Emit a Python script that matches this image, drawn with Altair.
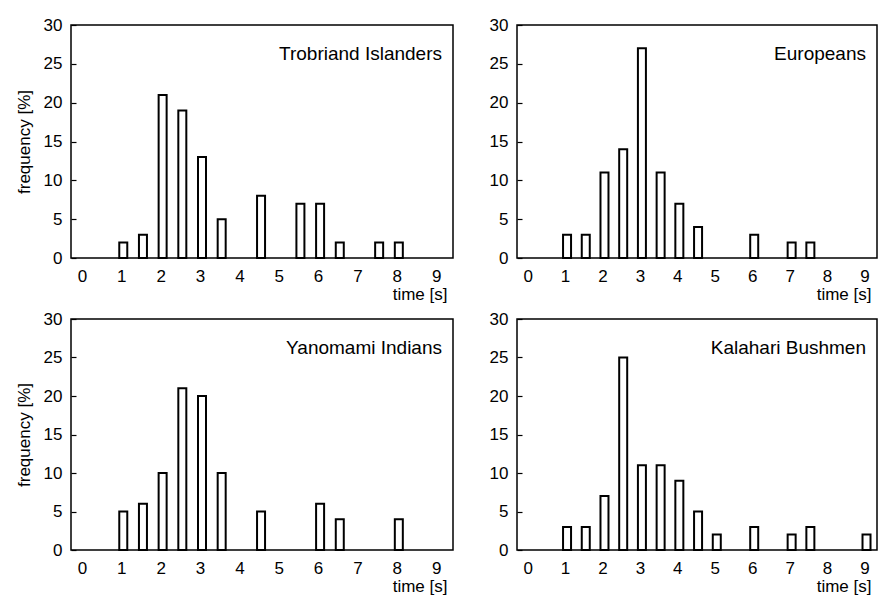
import altair as alt
import pandas as pd

FONT = "Liberation Sans"

x_ticks = [0, 1, 2, 3, 4, 5, 6, 7, 8, 9]
y_ticks = [0, 5, 10, 15, 20, 25, 30]

trobriand_time = [1, 1.5, 2, 2.5, 3, 3.5, 4.5, 5.5, 6, 6.5, 7.5, 8]
trobriand_freq = [2, 3, 21, 19, 13, 5, 8, 7, 7, 2, 2, 2]

europe_time = [1, 1.5, 2, 2.5, 3, 3.5, 4, 4.5, 6, 7, 7.5]
europe_freq = [3, 3, 11, 14, 27, 11, 7, 4, 3, 2, 2]

yanomami_time = [1, 1.5, 2, 2.5, 3, 3.5, 4.5, 6, 6.5, 8]
yanomami_freq = [5, 6, 10, 21, 20, 10, 5, 6, 4, 4]

kalahari_time = [1, 1.5, 2, 2.5, 3, 3.5, 4, 4.5, 5, 6, 7, 7.5, 9]
kalahari_freq = [3, 3, 7, 25, 11, 11, 9, 5, 2, 3, 2, 3, 2]

labels = ["Trobriand Islanders", "Europeans", "Yanomami Indians", "Kalahari Bushmen"]


def panel(times, freqs, label, width, height, xmax, show_ytitle):
    df = pd.DataFrame({"time": times, "freq": freqs})
    yaxis_kw = dict(values=y_ticks, grid=False, domain=False, ticks=True,
                    tickSize=5, offset=-5, labelPadding=9, titlePadding=10)
    if show_ytitle:
        yaxis_kw["title"] = "frequency [%]"
    else:
        yaxis_kw["title"] = None
    bars = alt.Chart(df).mark_bar(
        fill="white", stroke="black", strokeWidth=2, size=8, xOffset=2
    ).encode(
        x=alt.X("time:Q",
                scale=alt.Scale(domain=[-0.15, xmax], nice=False, zero=False),
                axis=alt.Axis(values=x_ticks, title="time [s]", titleAnchor="end",
                              titleAlign="right", titleX=width - 6,
                              grid=False, ticks=False, tickSize=0, domain=False,
                              labelPadding=10, titlePadding=2, format="d")),
        y=alt.Y("freq:Q", scale=alt.Scale(domain=[0, 30], nice=False),
                axis=alt.Axis(**yaxis_kw)),
    )
    txt = alt.Chart(pd.DataFrame({"label": [label]})).mark_text(
        align="right", baseline="alphabetic", fontSize=19, font=FONT, color="black"
    ).encode(
        x=alt.value(width - 11), y=alt.value(35), text="label:N"
    )
    return alt.layer(bars, txt).properties(width=width, height=height)


p1 = panel(trobriand_time, trobriand_freq, labels[0], 382, 233, 9.3, True)
p2 = panel(europe_time, europe_freq, labels[1], 360, 233, 9.2, False)
p3 = panel(yanomami_time, yanomami_freq, labels[2], 382, 231, 9.3, True)
p4 = panel(kalahari_time, kalahari_freq, labels[3], 360, 231, 9.2, False)

chart = alt.vconcat(
    alt.hconcat(p1, p2, spacing=34),
    alt.hconcat(p3, p4, spacing=34),
    spacing=6,
).properties(
    padding={"left": 6, "top": 7, "right": 0, "bottom": 0}
).configure_view(
    stroke="black", strokeWidth=1.5
).configure_axis(
    labelFont=FONT, titleFont=FONT, labelFontSize=17, titleFontSize=17,
    titleFontWeight="normal", labelColor="black", titleColor="black",
    tickColor="black", tickWidth=1.2
)

chart.save("out.html", embed_options={"renderer": "svg", "actions": False})
